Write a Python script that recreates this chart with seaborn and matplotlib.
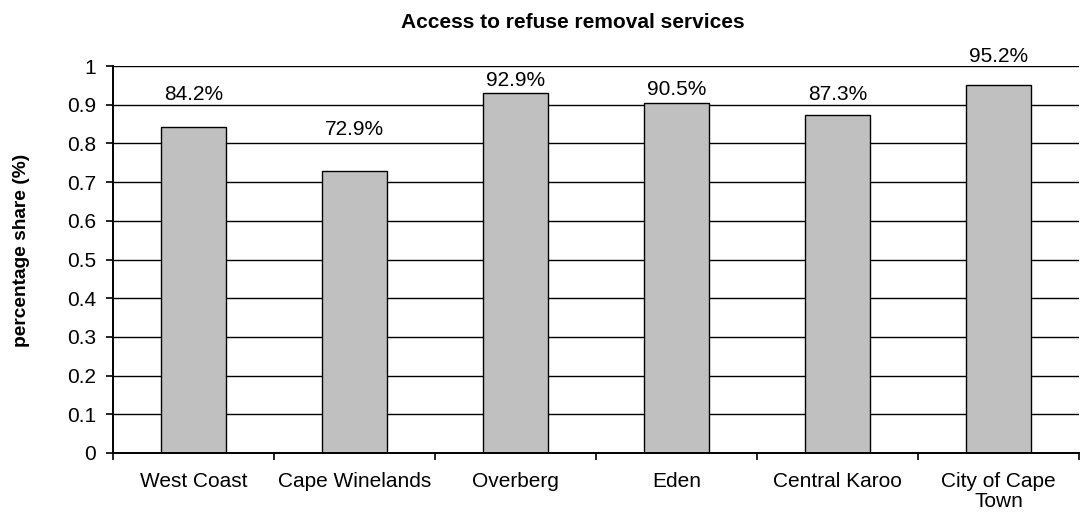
import matplotlib
matplotlib.use("Agg")
import matplotlib.pyplot as plt
import seaborn as sns
import pandas as pd
import numpy as np

# District municipalities and share of households with refuse removal
districts = ["West Coast", "Cape Winelands", "Overberg", "Eden", "Central Karoo", "City of Cape\nTown"]
shares = [0.842, 0.729, 0.929, 0.905, 0.873, 0.952]
# Heights (data units) at which each value label sits
label_heights = [0.912, 0.822, 0.948, 0.925, 0.912, 1.010]
y_ticks = [0, 0.1, 0.2, 0.3, 0.4, 0.5, 0.6, 0.7, 0.8, 0.9, 1]
y_tick_labels = ["0", "0.1", "0.2", "0.3", "0.4", "0.5", "0.6", "0.7", "0.8", "0.9", "1"]

sns.set_theme(style="white")
plt.rcParams["font.family"] = ["Liberation Sans", "DejaVu Sans"]
plt.rcParams.update({"text.color": "black", "axes.labelcolor": "black",
                     "xtick.color": "black", "ytick.color": "black"})

df = pd.DataFrame({"district": districts, "share": shares})

fig = plt.figure(figsize=(10.81, 5.16), dpi=100)
ax = fig.add_axes([113 / 1081, 1 - 453 / 516, (1079 - 113) / 1081, (453 - 66) / 516])

# Horizontal gridlines behind the bars
ax.set_axisbelow(True)
ax.yaxis.grid(True, color="black", linewidth=1.0)
ax.xaxis.grid(False)

sns.barplot(data=df, x="district", y="share", color="#C0C0C0", saturation=1,
            width=0.4, edgecolor="black", linewidth=1.0, ax=ax)

for i, (v, h) in enumerate(zip(shares, label_heights)):
    ax.text(i, h, f"{v * 100:.1f}%", ha="center", va="baseline", fontsize=15, color="black")

ax.set_ylim(0, 1)
ax.set_xlim(-0.5, len(districts) - 0.5)
ax.set_yticks(y_ticks)
ax.set_yticklabels(y_tick_labels, fontsize=15)
ax.set_xticks(range(len(districts)))
ax.set_xticklabels(districts, fontsize=15, linespacing=1.05)
ax.set_xticks(np.arange(-0.5, len(districts)), minor=True)

ax.tick_params(axis="x", which="major", length=0, pad=14)
ax.tick_params(axis="x", which="minor", length=5, width=1.2, color="black", direction="out", bottom=True)
ax.tick_params(axis="y", which="major", length=5, width=1.2, color="black", direction="out", left=True, pad=7)

for side in ["top", "right"]:
    ax.spines[side].set_visible(False)
for side in ["left", "bottom"]:
    ax.spines[side].set_color("black")
    ax.spines[side].set_linewidth(1.4)

ax.set_xlabel("")
ax.set_ylabel("percentage share (%)", fontsize=13.8, fontweight="bold", va="center")
ax.yaxis.set_label_coords(-(113 - 22) / 966, (453 - 250) / 387)

fig.text(573 / 1081, 1 - 28 / 516, "Access to refuse removal services", ha="center", va="baseline",
         fontsize=15, fontweight="bold")

fig.savefig("out.png", dpi=100, facecolor="white")
